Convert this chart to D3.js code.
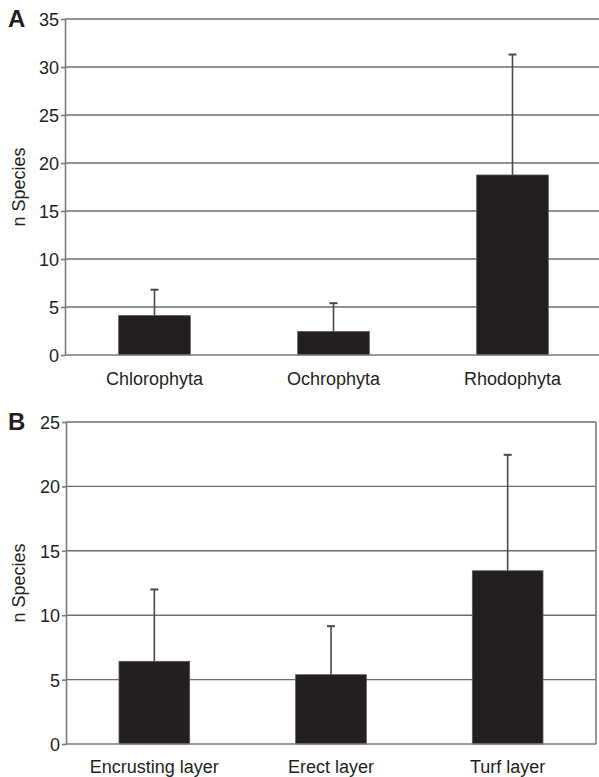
<!DOCTYPE html>
<html>
<head>
<meta charset="utf-8">
<script src="https://cdn.jsdelivr.net/npm/d3@7"></script>
<style>
  body { margin: 0; background: #fff; }
  svg { display: block; font-family: "Liberation Sans", Arial, sans-serif; }
  .grid line { stroke: #6d6d6d; stroke-width: 1.4; }
  .axis path, .axis line { stroke: #7a7a7a; stroke-width: 1.6; }
  .axis text { fill: #231f20; font-size: 18px; font-family: "Liberation Sans", Arial, sans-serif; }
</style>
</head>
<body>
<div id="chart"></div>
<script>
// panel A: divisions
var groupsA = ['Chlorophyta', 'Ochrophyta', 'Rhodophyta'];
var meanA = [4.1, 2.45, 18.75];
var errA = [6.8, 5.4, 31.3];
var ticksA = [0, 5, 10, 15, 20, 25, 30, 35];

// panel B: layers
var groupsB = ['Encrusting layer', 'Erect layer', 'Turf layer'];
var meanB = [6.42, 5.38, 13.45];
var errB = [12.0, 9.15, 22.45];
var ticksB = [0, 5, 10, 15, 20, 25];

var svg = d3.select("#chart").append("svg")
  .attr("width", 599)
  .attr("height", 777);

function panel(opt) {
  var x = d3.scaleBand()
    .domain(opt.groups)
    .range([opt.left, opt.right])
    .paddingInner(0.6)
    .paddingOuter(0.3);
  var y = d3.scaleLinear()
    .domain([0, opt.ymax])
    .range([opt.bottom, opt.top]);

  var g = svg.append("g");

  // gridlines
  g.append("g").attr("class", "grid")
    .selectAll("line")
    .data(opt.ticks.filter(function(d) { return d > 0; }))
    .enter().append("line")
    .attr("x1", opt.left)
    .attr("x2", opt.gridRight)
    .attr("y1", function(d) { return y(d); })
    .attr("y2", function(d) { return y(d); });

  // error bars (drawn under bars)
  var data = opt.groups.map(function(c, i) { return [c, opt.mean[i], opt.err[i]]; });
  var eb = g.append("g").attr("stroke", "#4a4a4a").attr("stroke-width", 1.6);
  eb.selectAll(".stem").data(data).enter().append("line")
    .attr("x1", function(d) { return x(d[0]) + x.bandwidth() / 2; })
    .attr("x2", function(d) { return x(d[0]) + x.bandwidth() / 2; })
    .attr("y1", function(d) { return y(d[1]); })
    .attr("y2", function(d) { return y(d[2]); });
  eb.selectAll(".cap").data(data).enter().append("line")
    .attr("x1", function(d) { return x(d[0]) + x.bandwidth() / 2 - 4; })
    .attr("x2", function(d) { return x(d[0]) + x.bandwidth() / 2 + 4; })
    .attr("y1", function(d) { return y(d[2]); })
    .attr("y2", function(d) { return y(d[2]); })
    .attr("stroke-width", 2);

  // bars
  g.selectAll(".bar").data(data).enter().append("rect")
    .attr("x", function(d) { return x(d[0]); })
    .attr("y", function(d) { return y(d[1]); })
    .attr("width", x.bandwidth())
    .attr("height", function(d) { return opt.bottom - y(d[1]); })
    .attr("fill", "#231f20")
    .attr("stroke", "#555")
    .attr("stroke-width", 0.8);

  if (opt.box) {
    g.append("line")
      .attr("x1", opt.gridRight).attr("x2", opt.gridRight)
      .attr("y1", opt.top).attr("y2", opt.bottom)
      .attr("stroke", "#7a7a7a").attr("stroke-width", 1.6);
  }

  // y axis
  var ya = g.append("g").attr("class", "axis")
    .attr("transform", "translate(" + opt.left + ",0)")
    .call(d3.axisLeft(y).tickValues(opt.ticks).tickSize(4).tickSizeOuter(0).tickPadding(2));
  ya.selectAll("text").attr("dy", "0.36em");

  // x axis
  var xa = g.append("g").attr("class", "axis")
    .attr("transform", "translate(0," + opt.bottom + ")")
    .call(d3.axisBottom(x).tickSize(0).tickPadding(opt.xPad));
  xa.select(".domain").attr("d", "M" + opt.left + ",0H" + opt.gridRight);

  // y title
  g.append("text")
    .attr("transform", "translate(25," + ((opt.top + opt.bottom) / 2) + ") rotate(-90)")
    .attr("text-anchor", "middle")
    .attr("font-size", "18px")
    .attr("fill", "#231f20")
    .text("n Species");

  // panel letter
  g.append("text")
    .attr("x", 8)
    .attr("y", opt.top + 8)
    .attr("font-size", "24px")
    .attr("font-weight", "bold")
    .attr("fill", "#231f20")
    .text(opt.letter);
}

panel({ groups: groupsA, mean: meanA, err: errA, ticks: ticksA, ymax: 35, xPad: 17,
  left: 65, right: 602, gridRight: 599, top: 19, bottom: 355, letter: "A", box: false });
panel({ groups: groupsB, mean: meanB, err: errB, ticks: ticksB, ymax: 25, xPad: 16,
  left: 66, right: 596, gridRight: 596, top: 422, bottom: 744, letter: "B", box: true });
</script>
</body>
</html>
